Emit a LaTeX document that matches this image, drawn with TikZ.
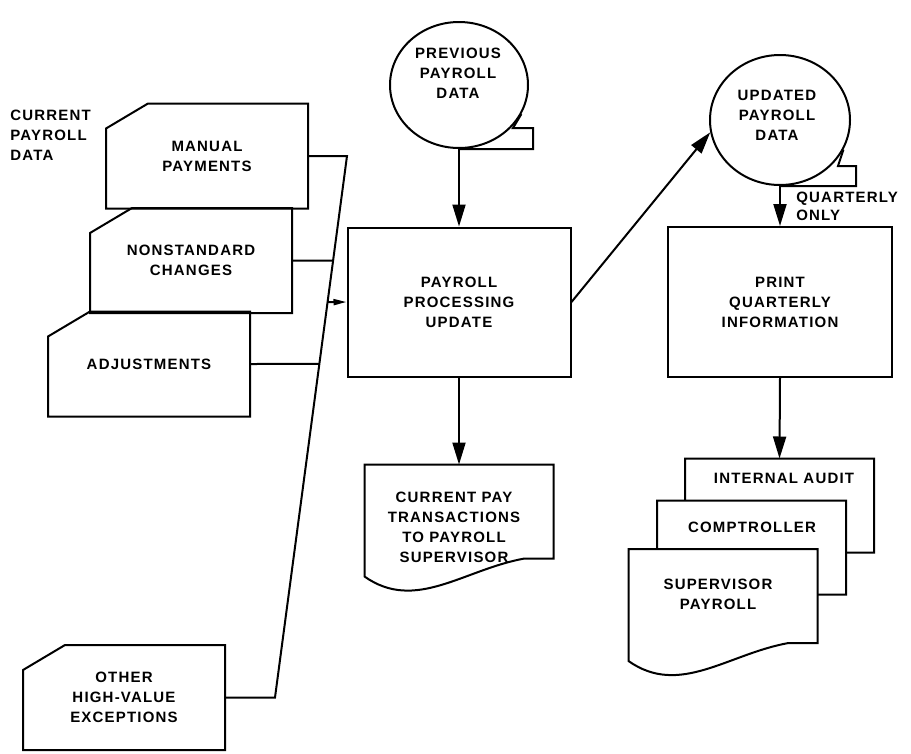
\documentclass[tikz,border=0pt]{standalone}
\usepackage{fontspec}
\newfontfamily\chartfont{Liberation Sans}[LetterSpace=8]
\usetikzlibrary{shapes.geometric,arrows.meta,calc,positioning}

\tikzset{
  every node/.style={font=\chartfont\bfseries\fontsize{15}{20}\selectfont, align=center},
  procbox/.style={draw, line width=2pt, minimum width=223pt, minimum height=149pt, inner sep=0pt},
  tape/.style={draw, ellipse, line width=2pt, minimum width=138pt, minimum height=126pt, inner sep=0pt},
  card/.style={minimum width=200pt, minimum height=103pt, inner sep=0pt},
  doc/.style={minimum width=187pt, minimum height=92pt, inner sep=0pt},
  >={Triangle[length=22pt,width=13pt]}
}

\begin{document}
\begin{tikzpicture}[x=1pt,y=-1pt,line width=2pt]
\useasboundingbox (0,0) rectangle (911,753);

\node at (6,135) [anchor=west,align=left] (curdata) {CURRENT\\PAYROLL\\DATA};

\node at (207,156) [card] (manual) {MANUAL\\PAYMENTS};
\node at (191,260.5) [card] (nonstd) {NONSTANDARD\\CHANGES};
\node at (149,364) [card] (adjust) {ADJUSTMENTS};
\node at (124,697.5) [card] (other) {OTHER\\HIGH-VALUE\\EXCEPTIONS};

\draw (manual.south west) -- (manual.south east) -- (manual.north east) -- ([xshift=42pt]manual.north west) -- ([yshift=-25pt]manual.north west) -- cycle;
\draw (nonstd.south west) -- (nonstd.south east) -- (nonstd.north east) -- ([xshift=42pt]nonstd.north west) -- ([yshift=-25pt]nonstd.north west) -- cycle;
\draw (adjust.south west) -- (adjust.south east) -- (adjust.north east) -- ([xshift=42pt]adjust.north west) -- ([yshift=-25pt]adjust.north west) -- cycle;
\draw (other.south west) -- (other.south east) -- (other.north east) -- ([xshift=42pt]other.north west) -- ([yshift=-25pt]other.north west) -- cycle;

\coordinate (bustop) at (347,156);
\coordinate (busbot) at (275,697.5);
\draw (manual.east) -- (bustop) -- (busbot) -- (other.east);
\draw (nonstd.east) -- ($(bustop)!0.193!(busbot)$);
\draw (adjust.east) -- ($(bustop)!0.384!(busbot)$);

\node at (459,302) [procbox] (update) {PAYROLL\\PROCESSING\\UPDATE};
\draw[-{Triangle[length=13pt,width=6pt]}] ($(bustop)!0.27!(busbot)$) -- (update.west);

\node at (459,85) [tape] (prev) {};
\draw (prev.south) -- ++(74,0) -- ++(0,-21) -- ++(-20,0) -- (prev.-25);
\node at (458,73) (prevtxt) {PREVIOUS\\PAYROLL\\DATA};
\draw[->] (prev.south) -- (update.north);

\node at (780,120) [tape,minimum width=140pt,minimum height=130pt] (upd) {};
\draw (upd.south) -- ++(76,0) -- ++(0,-20) -- ++(-18,0) -- (upd.-25);
\node at (777,115) (updtxt) {UPDATED\\PAYROLL\\DATA};
\draw[->] (update.east) -- (upd.190);

\node at (780,302) [procbox,minimum width=224pt,minimum height=150pt] (print) {PRINT\\QUARTERLY\\INFORMATION};
\draw[->] (upd.south) -- (print.north);
\node at (792,206) [anchor=west,align=left,font=\chartfont\bfseries\fontsize{15}{18}\selectfont] (qonly) {QUARTERLY\\ONLY};

\node at (459,511.5) [doc] (curpay) {};
\filldraw[fill=white] (curpay.north west) -- (curpay.north east) -- (curpay.south east) -- ++(-29,0) .. controls +(-61,11) and +(51,36) .. ([yshift=-18pt]curpay.south west) -- cycle;
\node at (454,527.5) (curtxt) {CURRENT PAY\\TRANSACTIONS\\TO PAYROLL\\SUPERVISOR};
\draw[->] (update.south) -- (curpay.north);

\node at (779.5,505.5) [doc] (audit) {};
\filldraw[fill=white] (audit.north west) -- (audit.north east) -- (audit.south east) -- ++(-29,0) .. controls +(-61,11) and +(51,36) .. ([yshift=-18pt]audit.south west) -- cycle;
\node at (784,478) (audittxt) {INTERNAL AUDIT};

\node at (751.5,547.5) [doc] (comp) {};
\filldraw[fill=white] (comp.north west) -- (comp.north east) -- (comp.south east) -- ++(-29,0) .. controls +(-61,11) and +(51,36) .. ([yshift=-18pt]comp.south west) -- cycle;
\node at (752,527) (comptxt) {COMPTROLLER};

\node at (723,596) [doc] (super) {};
\filldraw[fill=white] (super.north west) -- (super.north east) -- (super.south east) -- ++(-29,0) .. controls +(-61,11) and +(51,36) .. ([yshift=-18pt]super.south west) -- cycle;
\node at (718,594.5) (supertxt) {SUPERVISOR\\PAYROLL};

\draw[->] (print.south) -- (audit.north);

\end{tikzpicture}
\end{document}
